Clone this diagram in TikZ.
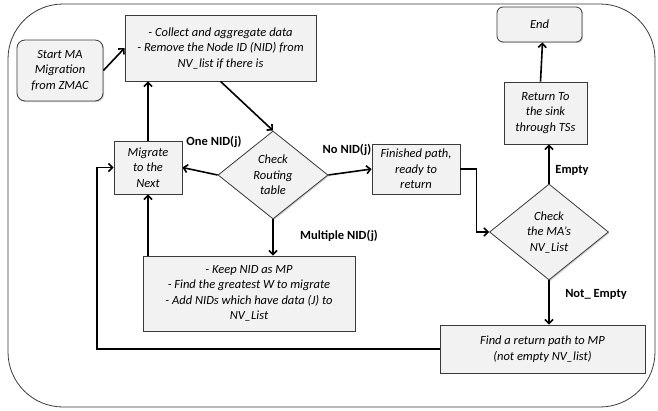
\documentclass[tikz,border=0pt]{standalone}
\usepackage{fontspec}
\setmainfont{Carlito}
\usetikzlibrary{shapes.geometric,arrows.meta,positioning,shadows}
\definecolor{boxfill}{HTML}{F2F2F2}
\definecolor{boxline}{HTML}{3A3A3A}

\begin{document}
\begin{tikzpicture}[
	x=1pt, y=-1pt,
	every node/.style={font=\fontsize{12.5}{15.5}\selectfont\itshape},
	block/.style={draw=boxline, fill=boxfill, line width=0.8pt, align=center, inner sep=2pt,
		drop shadow={shadow xshift=1.2pt, shadow yshift=-1.2pt, opacity=0.35}},
	decision/.style={block, diamond, inner sep=0pt},
	tag/.style={font=\fontsize{12.5}{14}\selectfont\bfseries},
	link/.style={-{Straight Barb[length=4pt,width=8pt]}, line width=1.6pt}
	]
\useasboundingbox (0,0) rectangle (658,410);
\draw[boxline, line width=0.8pt, rounded corners=55pt] (8,4) rectangle (655,407);

\node[block, rounded corners=8pt, minimum width=86, minimum height=61] (start) at (60,70.5) {Start MA\\Migration\\from ZMAC};
\node[block, minimum width=191, minimum height=66] (collect) at (220.5,48) {- Collect and aggregate data\\- Remove the Node ID (NID) from\\NV\_list if there is};
\node[block, minimum width=68, minimum height=53] (migrate) at (148,167.5) {Migrate\\to the\\Next};
\node[decision, minimum width=110, minimum height=88] (routing) at (273,175) {Check\\Routing\\table};
\node[block, minimum width=88, minimum height=50] (finished) at (416,169) {Finished path,\\ready to\\return};
\node[block, minimum width=83, minimum height=62] (sink) at (545.5,113) {Return To\\the sink\\through TSs};
\node[block, rounded corners=6pt, minimum width=85, minimum height=35] (endnode) at (539.5,24.5) {End};
\node[decision, minimum width=119, minimum height=96] (mapcheck) at (549,232) {Check\\the MA's\\NV\_List};
\node[block, minimum width=212, minimum height=75] (keep) at (249,293.5) {- Keep NID as MP\\- Find the greatest W to migrate\\- Add NIDs which have data (J) to\\NV\_List};
\node[block, minimum width=205, minimum height=48] (returnpath) at (542.5,349) {Find a return path to MP\\(not empty NV\_list)};

% branch labels
\node[tag] (onenid) at (214,142) {One NID(j)};
\node[tag] (nonid) at (347,150) {No NID(j)};
\node[tag] (multinid) at (339,236) {Multiple NID(j)};
\node[tag] (empty) at (572,170) {Empty};
\node[tag] (notempty) at (596,294) {Not\_ Empty};

\draw[link] (start.east) -- (collect.west);
\draw[link] (collect.south) -- (routing.north);
\draw[link] (routing.west) -- (migrate.east);
\draw[link] (routing.east) -- (finished.west);
\draw[link] (routing.south) -- (routing.south |- keep.north);
\draw[link] (keep.north -| migrate.south) -- (migrate.south);
\draw[link] (migrate.north) -- (collect.south -| migrate.north);
\draw[link] (finished.east) -- ++(16,0) |- (mapcheck.west);
\draw[link] (mapcheck.north) -- (mapcheck.north |- sink.south);
\draw[link] ([xshift=-5pt]sink.north) -- ([xshift=3pt]endnode.south);
\draw[link] (mapcheck.south) -- (mapcheck.south |- returnpath.north);
\coordinate (back) at (97,349);
\draw[link] (returnpath.west) -- (back) |- (migrate.west);
\end{tikzpicture}
\end{document}
